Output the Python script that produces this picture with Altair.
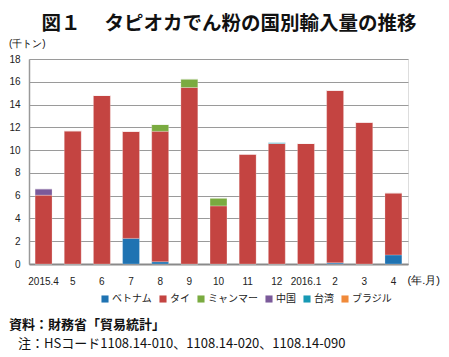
import altair as alt
import pandas as pd

months = ["2015.4", "5", "6", "7", "8", "9", "10", "11", "12", "2016.1", "2", "3", "4"]
series = ["ベトナム", "タイ", "ミャンマー", "中国", "台湾", "ブラジル"]
colors = ["#1f73b2", "#c44441", "#7aab40", "#7b5a9a", "#1799b4", "#f08a3a"]

vietnam = [0, 0, 0, 2.25, 0.2, 0, 0, 0, 0, 0, 0.1, 0, 0.8]
thai = [6.05, 11.7, 14.8, 9.4, 11.45, 15.5, 5.1, 9.65, 10.58, 10.58, 15.15, 12.45, 5.45]
myanmar = [0, 0, 0, 0, 0.6, 0.75, 0.7, 0, 0, 0, 0, 0, 0]
china = [0.55, 0, 0, 0, 0, 0, 0, 0, 0, 0, 0, 0, 0]
taiwan = [0, 0, 0, 0, 0, 0, 0, 0, 0.08, 0, 0, 0, 0]
brazil = [0, 0, 0, 0, 0, 0, 0, 0, 0, 0, 0, 0, 0]

title_text = "図１　 タピオカでん粉の国別輸入量の推移"
unit_text = "(千トン)"
xunit_text = "(年.月)"
note1 = "資料：財務省「貿易統計」"
note2 = "注：HSコード1108.14-010、1108.14-020、1108.14-090"

rows = []
for si, (name, vals) in enumerate(zip(series, [vietnam, thai, myanmar, china, taiwan, brazil])):
    for m, v in zip(months, vals):
        rows.append({"month": m, "country": name, "value": v, "ord": si})
df = pd.DataFrame(rows)

NARROW = "Liberation Sans Narrow, Liberation Sans, Arial, sans-serif"
JP = "Noto Sans CJK JP"

bars = alt.Chart(df).mark_bar(stroke="#ffffff", strokeWidth=0.4, strokeOpacity=0.6).encode(
    x=alt.X("month:N", sort=months,
            scale=alt.Scale(paddingInner=0.42, paddingOuter=0.21),
            axis=alt.Axis(title=None, labelAngle=0, ticks=False, domainColor="#8a8a8a",
                          domainWidth=2, labelFont=NARROW, labelFontSize=10,
                          labelColor="#222", labelPadding=12, grid=False)),
    y=alt.Y("value:Q", stack="zero",
            scale=alt.Scale(domain=[0, 18], nice=False),
            axis=alt.Axis(title=None, values=list(range(0, 19, 2)), ticks=False,
                          domainColor="#999", domainWidth=1.5, gridColor="#9a9a9a",
                          gridWidth=1.2, labelFont=NARROW, labelFontSize=10,
                          labelColor="#222", labelPadding=9)),
    color=alt.Color("country:N", scale=alt.Scale(domain=series, range=colors),
                    legend=alt.Legend(title=None, orient="none", direction="horizontal",
                                      legendX=71, legendY=235, symbolType="square",
                                      symbolSize=50, symbolStrokeWidth=0,
                                      labelFont=JP, labelFontSize=10, labelColor="#222",
                                      labelOffset=2, columnPadding=6)),
    order=alt.Order("ord:Q"),
)

def txt(s, x, y, size, align="left", weight="normal", font=JP):
    return alt.Chart(pd.DataFrame({"t": [s]})).mark_text(
        align=align, baseline="middle", font=font, fontSize=size, fontWeight=weight,
        color="#111").encode(x=alt.value(x), y=alt.value(y), text="t:N")

layers = [
    bars,
    txt(title_text, 200, -35, 19.5, align="center", weight="bold"),
    txt(unit_text, -20, -15, 10, font=NARROW),
    txt(xunit_text, 411, 222, 11, align="right", font=NARROW),
    txt(note1, -20, 266, 13, weight="bold"),
    txt(note2, -11, 285, 13),
]

chart = alt.layer(*layers).properties(
    width=379, height=205,
    autosize=alt.AutoSizeParams(type="none"),
    padding={"left": 21, "top": 51, "right": 33, "bottom": 88},
).configure_view(stroke=None).configure(background="white")

chart.save("out.html", embed_options={"renderer": "svg", "actions": False})
